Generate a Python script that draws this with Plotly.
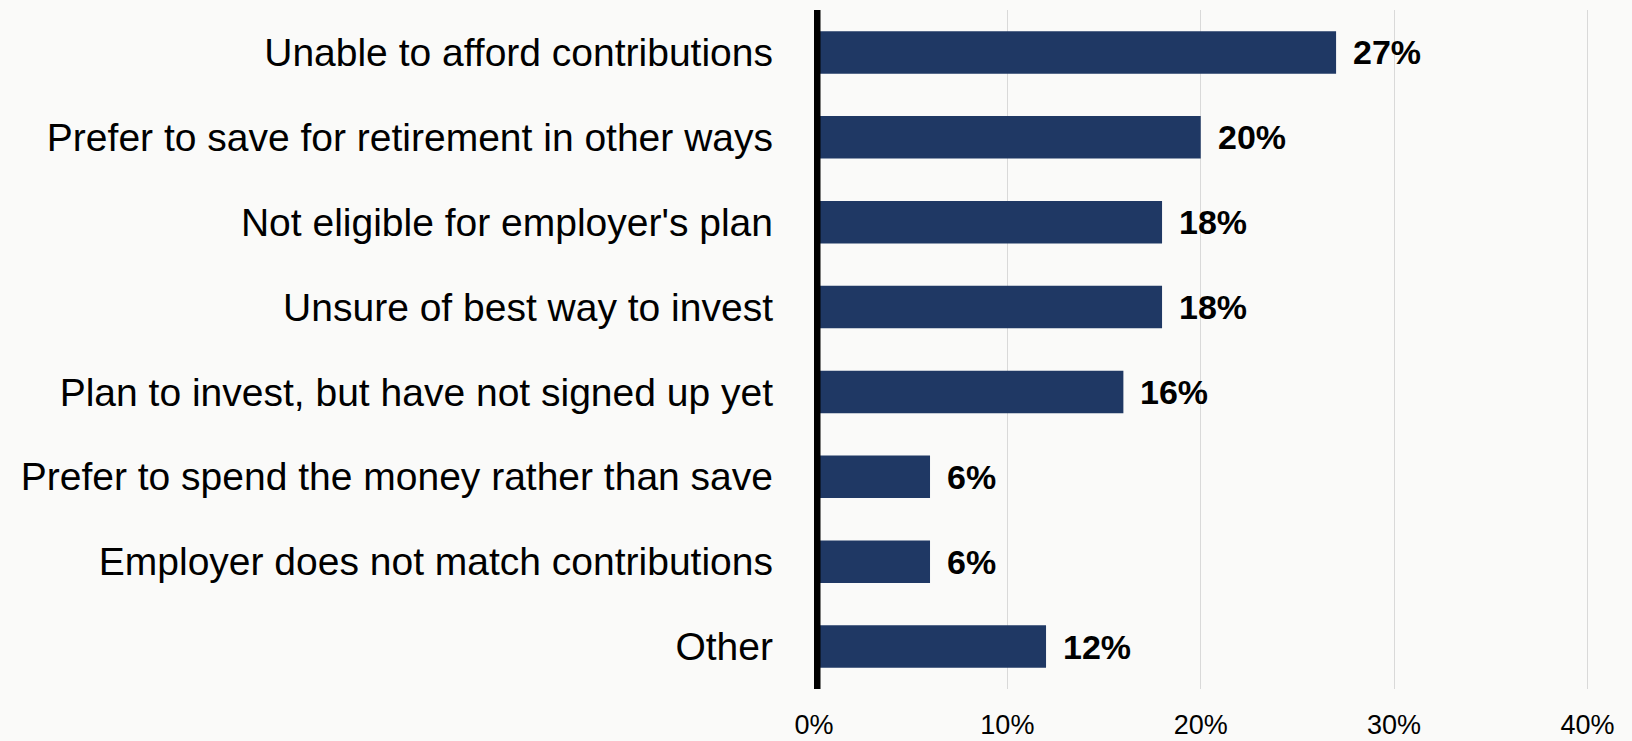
import plotly.graph_objects as go

# Reasons for not contributing to an employer retirement plan
reasons = [
    "Unable to afford contributions",
    "Prefer to save for retirement in other ways",
    "Not eligible for employer's plan",
    "Unsure of best way to invest",
    "Plan to invest, but have not signed up yet",
    "Prefer to spend the money rather than save",
    "Employer does not match contributions",
    "Other",
]
shares = [27, 20, 18, 18, 16, 6, 6, 12]
x_ticks = [0, 10, 20, 30, 40]
x_tick_text = ["0%", "10%", "20%", "30%", "40%"]

BAR = "#1f3864"
BG = "#fafaf9"
FONT = "Liberation Sans, Arial, sans-serif"

fig = go.Figure()
fig.add_trace(go.Bar(
    x=shares,
    y=reasons,
    orientation="h",
    marker=dict(color=BAR, line=dict(width=0)),
    width=0.5,
    hoverinfo="skip",
))

# value labels just past the end of each bar
for r, v in zip(reasons, shares):
    fig.add_annotation(
        x=v, y=r, xref="x", yref="y",
        text=f"<b>{v}%</b>",
        showarrow=False,
        xanchor="left", yanchor="middle",
        xshift=15,
        font=dict(family=FONT, size=34, color="#000000"),
    )

# heavy black baseline at 0%
fig.add_shape(
    type="line", xref="x", yref="paper",
    x0=0, x1=0, y0=0, y1=1,
    line=dict(color="#000000", width=13),
    layer="above",
)

fig.update_layout(
    width=1632, height=741,
    margin=dict(l=814, r=43, t=10, b=52),
    paper_bgcolor=BG, plot_bgcolor=BG,
    showlegend=False,
    xaxis=dict(
        range=[0, 40.08],
        tickmode="array", tickvals=x_ticks, ticktext=x_tick_text,
        showgrid=True, gridcolor="#d9d9d9", gridwidth=1,
        zeroline=False, showline=False,
        ticks="", ticklabelstandoff=17,
        tickfont=dict(family=FONT, size=27, color="#000000"),
        automargin=False,
        fixedrange=True,
    ),
    yaxis=dict(
        autorange="reversed",
        showgrid=False, zeroline=False, showline=False,
        ticks="", ticklabelstandoff=40,
        tickfont=dict(family=FONT, size=39, color="#000000"),
        automargin=False,
        fixedrange=True,
    ),
)

fig.write_html("out.html")
